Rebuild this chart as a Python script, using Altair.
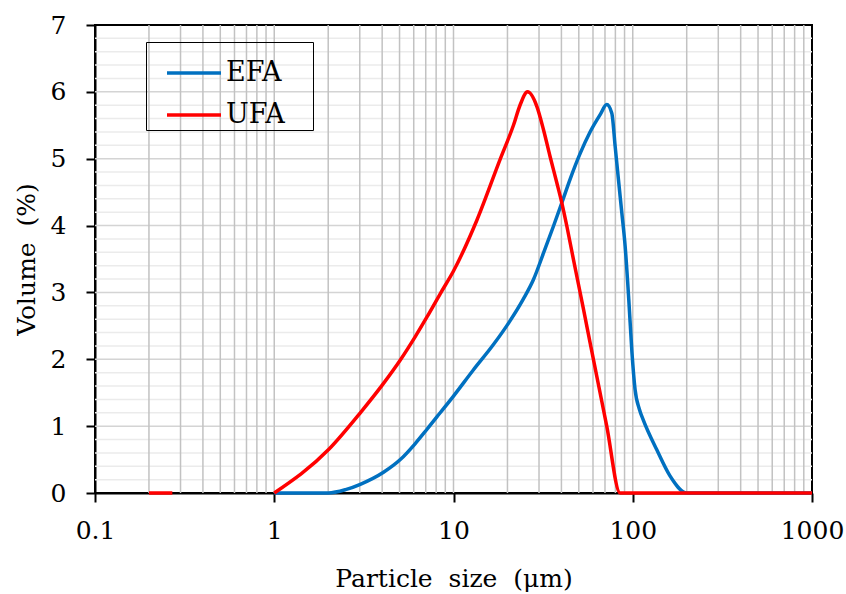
import altair as alt
import pandas as pd

# ---- data ----
efa_x = [1, 2, 2.5, 3.02, 4.07, 5.05, 6.12, 7.1, 8.43, 10, 12.9, 16.7, 20.5, 24.5, 27.9,
         31.8, 36.1, 40.2, 44.8, 50.9, 57.8, 65.8, 71.6, 76.4, 79.8, 83.2, 86.9, 90.7,
         95, 99, 103, 109, 115, 136, 161, 200, 1000]
efa_y = [0, 0, 0.05, 0.13, 0.31, 0.5, 0.74, 0.95, 1.2, 1.45, 1.84, 2.22, 2.56, 2.9, 3.19,
         3.59, 3.99, 4.34, 4.7, 5.08, 5.4, 5.66, 5.81, 5.68, 5.18, 4.69, 4.19, 3.69,
         2.9, 2.1, 1.55, 1.25, 1.08, 0.65, 0.26, 0.0, 0]

ufa_x = [0.2, 0.27,
         1, 2.01, 3.02, 4.07, 5.05, 6.12, 7.1, 8.43, 10, 13.5, 18.2, 21.6, 23.5, 25.9,
         29.2, 31.8, 34.6, 37.7, 40.2, 42.9, 46.7, 53.1, 57.8, 71.6, 85, 1000]
ufa_y = [0, 0,
         0, 0.65, 1.2, 1.64, 1.99, 2.34, 2.63, 2.98, 3.32, 4.08, 4.99, 5.5, 5.8, 6.0,
         5.78, 5.43, 5.03, 4.64, 4.34, 3.99, 3.49, 2.75, 2.25, 1.0, 0, 0]
ufa_seg = ["a", "a"] + ["b"] * 26

x_ticks = [0.1, 1, 10, 100, 1000]
y_ticks = [0, 1, 2, 3, 4, 5, 6, 7]
grid_x = [0.2, 0.3, 0.4, 0.5, 0.6, 0.7, 0.8, 0.9,
          1, 2, 3, 4, 5, 6, 7, 8, 9,
          10, 20, 30, 40, 50, 60, 70, 80, 90,
          100, 200, 300, 400, 500, 600, 700, 800, 900]
grid_y_major = [1, 2, 3, 4, 5, 6]
grid_y_minor = [0.2, 0.4, 0.6, 0.8, 1.2, 1.4, 1.6, 1.8, 2.2, 2.4, 2.6, 2.8,
                3.2, 3.4, 3.6, 3.8, 4.2, 4.4, 4.6, 4.8, 5.2, 5.4, 5.6, 5.8,
                6.2, 6.4, 6.6, 6.8]

FONT = "DejaVu Serif"

lines_df = pd.concat([
    pd.DataFrame({"x": efa_x, "y": efa_y, "series": "EFA", "seg": "EFA"}),
    pd.DataFrame({"x": ufa_x, "y": ufa_y, "series": "UFA",
                  "seg": ["UFA" + s for s in ufa_seg]}),
], ignore_index=True)

xscale = alt.Scale(type="log", domain=[0.1, 1000], nice=False)
yscale = alt.Scale(domain=[0, 7], nice=False, zero=False)

x_axis = alt.Axis(values=x_ticks, labelExpr="format(datum.value, '~g')",
                  title="Particle\u00a0 size\u00a0 (\u03bcm)",
                  grid=False, domainColor="black", domainWidth=2,
                  tickColor="black", tickWidth=2, tickSize=9,
                  labelFont=FONT, labelFontSize=25, labelColor="black",
                  labelPadding=16, labelFlush=False, labelOverlap=False,
                  titleFont=FONT, titleFontSize=25, titleFontWeight="normal",
                  titleColor="black", titlePadding=23)
y_axis = alt.Axis(values=y_ticks, title="Volume\u00a0 (%)",
                  grid=False, domainColor="black", domainWidth=2,
                  tickColor="black", tickWidth=2, tickSize=9,
                  labelFont=FONT, labelFontSize=25, labelColor="black",
                  labelPadding=20, labelFlush=False, labelOverlap=False,
                  titleFont=FONT, titleFontSize=25, titleFontWeight="normal",
                  titleColor="black", titlePadding=11)

gy_minor = alt.Chart(pd.DataFrame({"v": grid_y_minor})).mark_rule(
    color="#ebebeb", strokeWidth=1.5).encode(y=alt.Y("v:Q", scale=yscale, axis=y_axis))
gy_major = alt.Chart(pd.DataFrame({"v": grid_y_major})).mark_rule(
    color="#d4d4d4", strokeWidth=1.5).encode(y=alt.Y("v:Q", scale=yscale, axis=y_axis))
gx = alt.Chart(pd.DataFrame({"v": grid_x})).mark_rule(
    color="#c2c2c2", strokeWidth=1.5).encode(x=alt.X("v:Q", scale=xscale, axis=x_axis))

pad = "\u00a0\u00a0\u00a0\u200b"
lines = alt.Chart(lines_df).mark_line(strokeWidth=3.5, interpolate="monotone").encode(
    x=alt.X("x:Q", scale=xscale, axis=x_axis),
    y=alt.Y("y:Q", scale=yscale, axis=y_axis),
    color=alt.Color("series:N",
                    scale=alt.Scale(domain=["EFA", "UFA"], range=["#0070C0", "#FF0000"]),
                    legend=alt.Legend(orient="none", legendX=51, legendY=17, title=None,
                                      strokeColor="black", padding=2, rowPadding=0,
                                      symbolType="stroke", symbolSize=2916,
                                      symbolStrokeWidth=3.5, symbolOffset=17,
                                      labelOffset=3, labelFont=FONT, labelFontSize=27,
                                      labelColor="black",
                                      labelExpr="datum.label + '" + pad + "'")),
    detail="seg:N",
)

chart = alt.layer(gy_minor, gy_major, gx, lines).properties(
    width=717, height=468,
    autosize=alt.AutoSizeParams(type="none"),
    padding={"left": 95, "top": 25, "right": 34, "bottom": 101},
    background="white",
).configure_view(stroke="black", strokeWidth=2)

chart.save("out.html", embed_options={"renderer": "svg", "actions": False})
